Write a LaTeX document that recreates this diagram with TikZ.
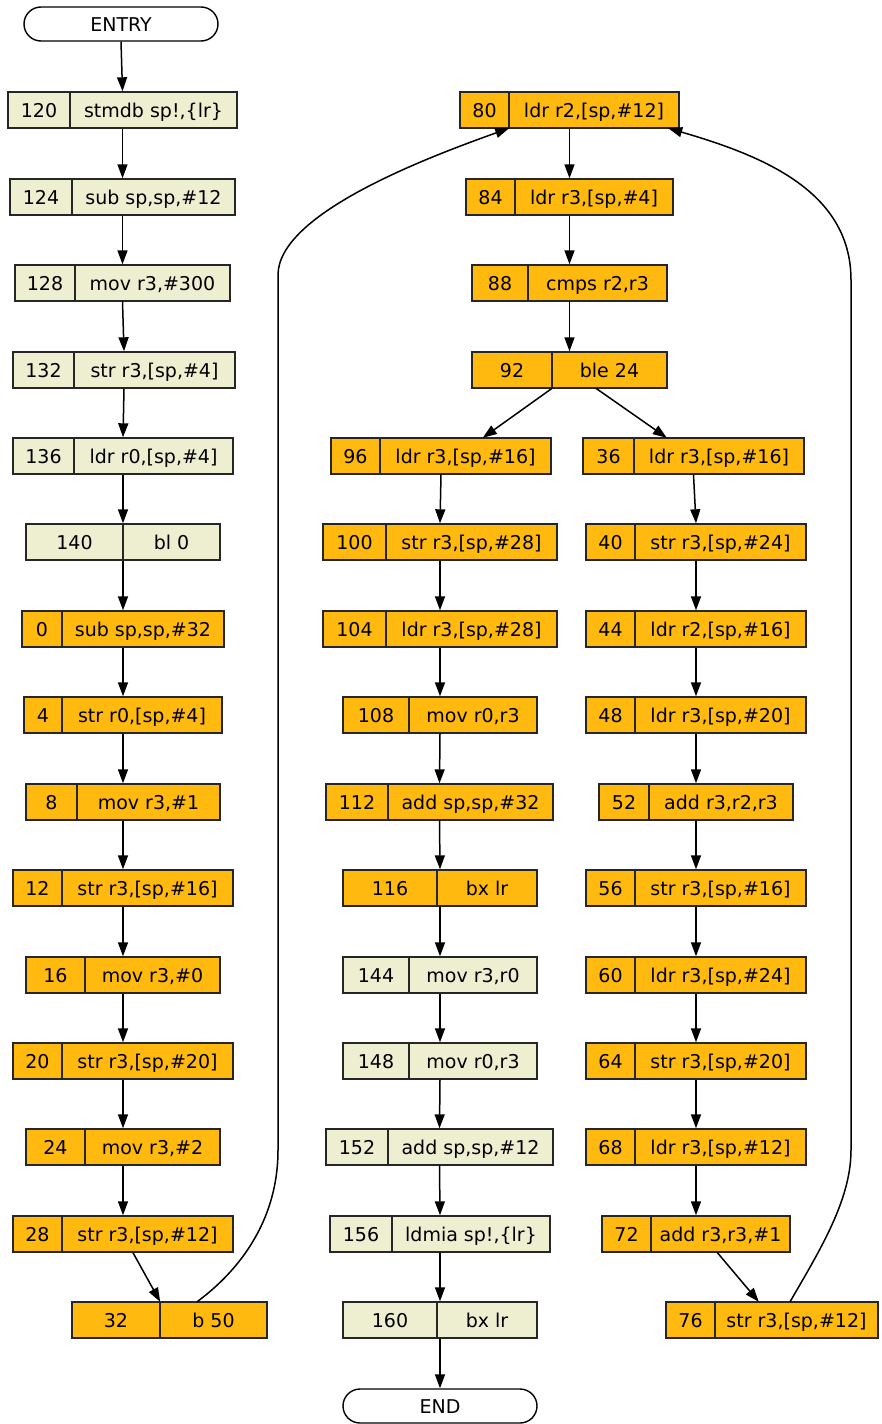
\documentclass[tikz,border=0pt]{standalone}
\usepackage{fontspec}
\setmainfont{DejaVu Sans}
\usetikzlibrary{arrows.meta,calc}
\definecolor{hot}{HTML}{FFB90F}
\definecolor{cold}{HTML}{EEEED1}
\tikzset{
  recbox/.style={draw=black!85,line width=1.4pt,minimum height=36pt,inner sep=0pt},
  recpart/.style={minimum height=36pt,inner sep=0pt,text height=14pt,text depth=0pt,font=\fontsize{19}{21}\selectfont},
  recline/.style={draw=black!85,line width=1.4pt},
  term/.style={draw=black,line width=1.4pt,rounded corners=17pt,minimum height=34pt,inner sep=0pt,text height=14pt,text depth=0pt,font=\fontsize{19}{21}\selectfont,fill=white},
  edge/.style={draw=black,line width=1.5pt,-{Triangle[length=14pt,width=10pt]}},
}
\newcommand{\rec}[8]{%
  \node[recbox,fill=#8,minimum width={(#3-#2)*1pt}] (#1) at ({(#2+#3)/2},#5) {};
  \node[recpart,minimum width={(#4-#2)*1pt}] (#1a) at ({(#2+#4)/2},#5) {#6};
  \node[recpart,minimum width={(#3-#4)*1pt}] (#1b) at ({(#4+#3)/2},#5) {#7};
  \coordinate (#1d) at (#4,#5);
  \draw[recline] (#1.north -| #1d) -- (#1.south -| #1d);
}
\begin{document}
\begin{tikzpicture}[x=1pt,y=-1pt]
\useasboundingbox (0,0) rectangle (881,1424);
% left column
\node[term,minimum width=194pt] (entry) at (121,24) {ENTRY};
\rec{n120}{8}{237}{70}{110}{120}{stmdb sp!,\{lr\}}{cold}
\rec{n124}{10}{235}{72}{197}{124}{sub sp,sp,\#12}{cold}
\rec{n128}{15}{230}{75}{283}{128}{mov r3,\#300}{cold}
\rec{n132}{13}{235}{74}{370}{132}{str r3,[sp,\#4]}{cold}
\rec{n136}{13}{233}{74}{456}{136}{ldr r0,[sp,\#4]}{cold}
\rec{n140}{26}{220}{123}{542}{140}{bl 0}{cold}
\rec{n0}{22}{224}{62}{629}{0}{sub sp,sp,\#32}{hot}
\rec{n4}{24}{222}{62}{715}{4}{str r0,[sp,\#4]}{hot}
\rec{n8}{26}{220}{77}{802}{8}{mov r3,\#1}{hot}
\rec{n12}{13}{233}{62}{888}{12}{str r3,[sp,\#16]}{hot}
\rec{n16}{26}{220}{85}{975}{16}{mov r3,\#0}{hot}
\rec{n20}{13}{233}{62}{1061}{20}{str r3,[sp,\#20]}{hot}
\rec{n24}{26}{220}{85}{1147}{24}{mov r3,\#2}{hot}
\rec{n28}{13}{233}{62}{1234}{28}{str r3,[sp,\#12]}{hot}
\rec{n32}{72}{267}{160}{1320}{32}{b 50}{hot}
% middle column
\rec{n80}{460}{679}{509}{110}{80}{ldr r2,[sp,\#12]}{hot}
\rec{n84}{466}{673}{515}{197}{84}{ldr r3,[sp,\#4]}{hot}
\rec{n88}{472}{667}{528}{283}{88}{cmps r2,r3}{hot}
\rec{n92}{472}{667}{552}{370}{92}{ble 24}{hot}
\rec{n96}{331}{551}{380}{456}{96}{ldr r3,[sp,\#16]}{hot}
\rec{n100}{323}{557}{386}{542}{100}{str r3,[sp,\#28]}{hot}
\rec{n104}{323}{557}{386}{629}{104}{ldr r3,[sp,\#28]}{hot}
\rec{n108}{343}{537}{409}{715}{108}{mov r0,r3}{hot}
\rec{n112}{326}{553}{388}{802}{112}{add sp,sp,\#32}{hot}
\rec{n116}{343}{537}{437}{888}{116}{bx lr}{hot}
\rec{n144}{343}{537}{409}{975}{144}{mov r3,r0}{cold}
\rec{n148}{343}{537}{409}{1061}{148}{mov r0,r3}{cold}
\rec{n152}{326}{553}{388}{1147}{152}{add sp,sp,\#12}{cold}
\rec{n156}{330}{550}{392}{1234}{156}{ldmia sp!,\{lr\}}{cold}
\rec{n160}{343}{537}{437}{1320}{160}{bx lr}{cold}
\node[term,minimum width=194pt] (end) at (440,1406) {END};
% right column
\rec{n36}{583}{804}{634}{456}{36}{ldr r3,[sp,\#16]}{hot}
\rec{n40}{586}{806}{635}{542}{40}{str r3,[sp,\#24]}{hot}
\rec{n44}{586}{806}{635}{629}{44}{ldr r2,[sp,\#16]}{hot}
\rec{n48}{586}{806}{635}{715}{48}{ldr r3,[sp,\#20]}{hot}
\rec{n52}{599}{793}{649}{802}{52}{add r3,r2,r3}{hot}
\rec{n56}{586}{806}{635}{888}{56}{str r3,[sp,\#16]}{hot}
\rec{n60}{586}{806}{635}{975}{60}{ldr r3,[sp,\#24]}{hot}
\rec{n64}{586}{806}{635}{1061}{64}{str r3,[sp,\#20]}{hot}
\rec{n68}{586}{806}{635}{1147}{68}{ldr r3,[sp,\#12]}{hot}
\rec{n72}{602}{790}{651}{1234}{72}{add r3,r3,\#1}{hot}
\rec{n76}{666}{878}{715}{1320}{76}{str r3,[sp,\#12]}{hot}
% straight edges
\foreach \a/\b in {entry/n120,n120/n124,n124/n128,n128/n132,n132/n136,n136/n140,n140/n0,n0/n4,n4/n8,n8/n12,n12/n16,n16/n20,n20/n24,n24/n28,
  n80/n84,n84/n88,n88/n92,n96/n100,n100/n104,n104/n108,n108/n112,n112/n116,n116/n144,n144/n148,n148/n152,n152/n156,n156/n160,n160/end,
  n36/n40,n40/n44,n44/n48,n48/n52,n52/n56,n56/n60,n60/n64,n64/n68,n68/n72}
  \draw[edge] (\a.south) -- (\b.north);
% special edges
\draw[edge] ($(n28.south)+(10,0)$) -- (n32a.north east);
\draw[edge] (n92a.south east) -- ($(n96b.north west)+(103,0)$);
\draw[edge] ($(n92b.south west)+(44,0)$) -- ($(n36b.north west)+(33,0)$);
\draw[edge] ($(n72b.south)+(-3.5,0)$) -- ($(n76b.north west)+(44,0)$);
\draw[edge] ($(n32b.north)+(-16.5,0)$) .. controls (240,1270) and (278,1220) .. (278,1150)
  -- (278,275) .. controls (278,215) and (420,160) .. (n80a.south east);
\draw[edge] ($(n76b.north)+(-6.5,0)$) .. controls (820,1250) and (851,1200) .. (851,1150)
  -- (851,280) .. controls (851,190) and (760,155) .. ($(n80b.south east)+(-11,0)$);
\end{tikzpicture}
\end{document}
